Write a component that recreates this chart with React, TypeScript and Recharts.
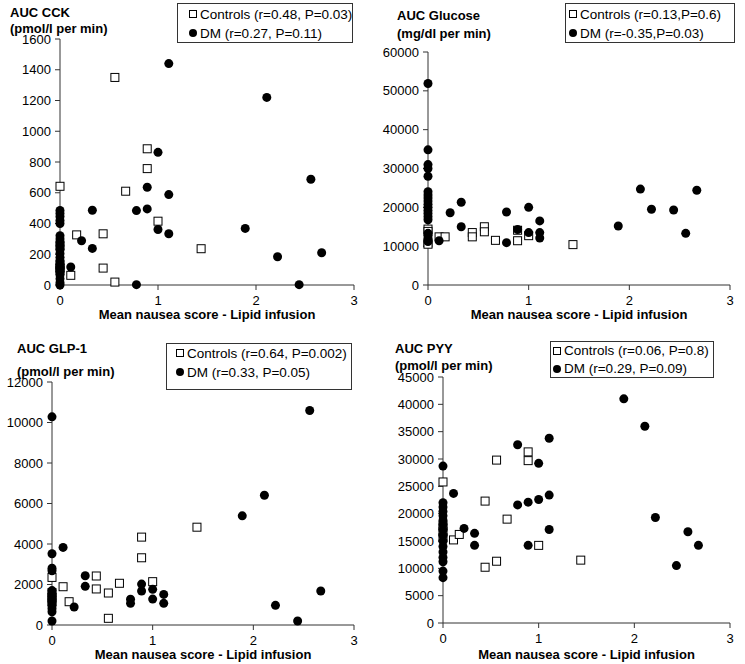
import { ScatterChart, Scatter, XAxis, YAxis } from "recharts";

type Pt = [number, number];

const FONT = "'Liberation Sans', Arial, sans-serif";
const xTicks = [0, 1, 2, 3];
const xLabel = "Mean nausea score - Lipid infusion";

// AUC CCK
const cckTicks = [0, 200, 400, 600, 800, 1000, 1200, 1400, 1600];
const cckControls: Pt[] = [
  [0, 642], [0, 255], [0, 130], [0, 110], [0, 95], [0.11, 63], [0.17, 326],
  [0.44, 333], [0.44, 110], [0.56, 1350], [0.56, 19], [0.67, 610],
  [0.89, 886], [0.89, 757], [1.0, 415], [1.44, 236],
];
const cckDM: Pt[] = [
  [0, 485], [0, 465], [0, 445], [0, 420], [0, 400], [0, 320], [0, 300], [0, 280],
  [0, 255], [0, 230], [0, 205], [0, 180], [0, 160], [0, 135], [0, 110], [0, 90],
  [0, 65], [0, 40], [0, 15], [0, 0],
  [0.11, 117], [0.22, 288], [0.33, 486], [0.33, 238], [0.78, 484], [0.78, 2],
  [0.89, 636], [0.89, 495], [1.0, 863], [1.0, 361], [1.11, 1440], [1.11, 588],
  [1.11, 333], [1.89, 368], [2.11, 1220], [2.22, 184], [2.44, 2], [2.56, 688],
  [2.67, 210],
];

// AUC Glucose
const gluTicks = [0, 10000, 20000, 30000, 40000, 50000, 60000];
const gluControls: Pt[] = [
  [0, 14400], [0, 13800], [0, 10800], [0, 10500], [0.11, 12400], [0.17, 12400],
  [0.44, 13500], [0.44, 12400], [0.56, 15000], [0.56, 13700], [0.67, 11500],
  [0.89, 14100], [0.89, 11400], [1.0, 12700], [1.44, 10400],
];
const gluDM: Pt[] = [
  [0, 51900], [0, 34800], [0, 31000], [0, 30000], [0, 28000], [0, 24000],
  [0, 23200], [0, 22400], [0, 21600], [0, 20800], [0, 20000], [0, 19200],
  [0, 18400], [0, 17600], [0, 16800], [0, 13300], [0, 12600], [0, 11900], [0, 11200],
  [0.11, 11400], [0.22, 18600], [0.33, 21300], [0.33, 15000], [0.78, 18800],
  [0.78, 10900], [0.89, 14300], [1.0, 20000], [1.0, 13500], [1.11, 16500],
  [1.11, 13500], [1.11, 12100], [1.89, 15200], [2.11, 24700], [2.22, 19500],
  [2.44, 19300], [2.56, 13300], [2.67, 24400],
];

// AUC GLP-1
const glpTicks = [0, 2000, 4000, 6000, 8000, 10000, 12000];
const glpControls: Pt[] = [
  [0, 2350], [0, 1600], [0, 1350], [0, 1150], [0.11, 1890], [0.17, 1150],
  [0.44, 2420], [0.44, 1780], [0.56, 1580], [0.56, 330], [0.67, 2060],
  [0.89, 4340], [0.89, 3320], [1.0, 2140], [1.44, 4830],
];
const glpDM: Pt[] = [
  [0, 10280], [0, 3520], [0, 2800], [0, 2680], [0, 1700], [0, 1550], [0, 1400],
  [0, 1250], [0, 1100], [0, 950], [0, 800], [0, 650], [0, 200],
  [0.11, 3830], [0.22, 890], [0.33, 2430], [0.33, 1910], [0.78, 1270],
  [0.78, 1070], [0.89, 2020], [0.89, 1680], [1.0, 1760], [1.0, 1280],
  [1.11, 1510], [1.11, 1070], [1.89, 5390], [2.11, 6410], [2.22, 970],
  [2.44, 200], [2.56, 10590], [2.67, 1680],
];

// AUC PYY
const pyyTicks = [0, 5000, 10000, 15000, 20000, 25000, 30000, 35000, 40000, 45000];
const pyyControls: Pt[] = [
  [0, 25800], [0, 17800], [0, 16800], [0, 15600], [0.11, 15200], [0.17, 16200],
  [0.44, 22300], [0.44, 10200], [0.56, 29800], [0.56, 11300], [0.67, 19000],
  [0.89, 31300], [0.89, 29700], [1.0, 14200], [1.44, 11500],
];
const pyyDM: Pt[] = [
  [0, 28700], [0, 22000], [0, 21200], [0, 20400], [0, 19600], [0, 18800],
  [0, 18000], [0, 17000], [0, 16000], [0, 15000], [0, 14000], [0, 13000],
  [0, 12000], [0, 11200], [0, 9500], [0, 8300],
  [0.11, 23700], [0.22, 17300], [0.33, 16400], [0.33, 14200], [0.78, 32600],
  [0.78, 21600], [0.89, 22100], [0.89, 14200], [1.0, 29200], [1.0, 22600],
  [1.11, 33800], [1.11, 23400], [1.11, 17100], [1.89, 41000], [2.11, 36000],
  [2.22, 19300], [2.44, 10500], [2.56, 16700], [2.67, 14200],
];

const toRows = (pts: Pt[]) => pts.map(([x, y]) => ({ x, y }));

const Square = (p: any) => (
  <rect x={p.cx - 4} y={p.cy - 4} width={8} height={8} fill="#fff" stroke="#000" strokeWidth={1} />
);
const Dot = (p: any) => <circle cx={p.cx} cy={p.cy} r={4.5} fill="#000" />;

const tickStyle = { fontSize: 13, fill: "#000", fontFamily: FONT };

function Legend({ box, pad, padTop, controls, dm }: any) {
  const row = { display: "flex", alignItems: "center", height: 18, whiteSpace: "nowrap" } as const;
  return (
    <div
      style={{
        position: "absolute",
        left: box[0],
        top: box[1],
        width: box[2],
        height: box[3],
        border: "1px solid #333",
        boxSizing: "border-box",
        background: "#fff",
        display: "flex",
        flexDirection: "column",
        paddingLeft: pad,
        paddingTop: padTop,
        fontSize: 13.5,
        fontFamily: FONT,
        color: "#000",
        gap: 1,
      }}
    >
      <div style={row}>
        <span style={{ width: 8, height: 8, border: "1px solid #000", boxSizing: "border-box", marginRight: 3, flex: "none" }} />
        {controls}
      </div>
      <div style={row}>
        <span style={{ width: 8, height: 8, borderRadius: 4, background: "#000", marginRight: 3, flex: "none" }} />
        {dm}
      </div>
    </div>
  );
}

function Panel(props: any) {
  const { cell, margin, yWidth, xHeight, labelOffset, yTicks, controls, dm, title, unit, titlePos, legend } = props;
  const [left, top, width, height] = cell;
  const text = { position: "absolute", fontFamily: FONT, fontWeight: "bold", fontSize: 13, lineHeight: "13px", color: "#000", whiteSpace: "nowrap" } as const;
  return (
    <div style={{ position: "absolute", left, top, width, height }}>
      <ScatterChart width={width} height={height} margin={margin}>
        <XAxis
          type="number"
          dataKey="x"
          domain={[0, 3]}
          ticks={xTicks}
          height={xHeight}
          tickSize={5}
          tickMargin={6}
          tick={tickStyle}
          stroke="#333"
          label={{ value: xLabel, position: "insideBottom", offset: labelOffset, fontSize: 13, fontWeight: "bold", fill: "#000", fontFamily: FONT }}
        />
        <YAxis
          type="number"
          dataKey="y"
          domain={[0, yTicks[yTicks.length - 1]]}
          ticks={yTicks}
          width={yWidth}
          tickSize={5}
          tickMargin={4}
          tick={tickStyle}
          stroke="#333"
          interval={0}
        />
        <Scatter name="Controls" data={toRows(controls)} shape={Square} isAnimationActive={false} />
        <Scatter name="DM" data={toRows(dm)} shape={Dot} isAnimationActive={false} />
      </ScatterChart>
      <div style={{ ...text, left: titlePos[0] - left, top: titlePos[1] - top - 6.5 }}>{title}</div>
      <div style={{ ...text, left: titlePos[0] - left, top: titlePos[2] - top - 6.5 }}>{unit}</div>
      <Legend
        box={[legend.box[0] - left, legend.box[1] - top, legend.box[2], legend.box[3]]}
        pad={legend.pad}
        padTop={legend.padTop}
        controls={legend.controls}
        dm={legend.dm}
      />
    </div>
  );
}

export default function App() {
  return (
    <div style={{ position: "absolute", left: 0, top: 0, width: 745, height: 664, background: "#fff" }}>
      <Panel
        cell={[0, 0, 372, 330]}
        margin={{ top: 39, right: 18, bottom: 5, left: 5 }}
        yWidth={55}
        xHeight={40}
        labelOffset={6}
        yTicks={cckTicks}
        controls={cckControls}
        dm={cckDM}
        title="AUC CCK"
        unit="(pmol/l per min)"
        titlePos={[10, 12, 28]}
        legend={{ box: [177, 3, 176, 40], pad: 11, padTop: 1, controls: "Controls (r=0.48, P=0.03)", dm: "DM (r=0.27, P=0.11)" }}
      />
      <Panel
        cell={[372, 0, 373, 330]}
        margin={{ top: 52, right: 15, bottom: 5, left: 5 }}
        yWidth={51}
        xHeight={40}
        labelOffset={6}
        yTicks={gluTicks}
        controls={gluControls}
        dm={gluDM}
        title="AUC Glucose"
        unit="(mg/dl per min)"
        titlePos={[397, 15, 33]}
        legend={{ box: [565, 3, 170, 40], pad: 3, padTop: 1, controls: "Controls (r=0.13,P=0.6)", dm: "DM (r=-0.35,P=0.03)" }}
      />
      <Panel
        cell={[0, 330, 372, 334]}
        margin={{ top: 52, right: 18, bottom: 3, left: 5 }}
        yWidth={47}
        xHeight={36}
        labelOffset={2.5}
        yTicks={glpTicks}
        controls={glpControls}
        dm={glpDM}
        title="AUC GLP-1"
        unit="(pmol/l per min)"
        titlePos={[17, 348, 371]}
        legend={{ box: [166, 343, 186, 47], pad: 9, padTop: 0, controls: "Controls (r=0.64, P=0.002)", dm: "DM (r=0.33, P=0.05)" }}
      />
      <Panel
        cell={[372, 330, 373, 334]}
        margin={{ top: 47, right: 15, bottom: 5, left: 5 }}
        yWidth={66}
        xHeight={36}
        labelOffset={0.5}
        yTicks={pyyTicks}
        controls={pyyControls}
        dm={pyyDM}
        title="AUC PYY"
        unit="(pmol/l per min)"
        titlePos={[395, 348, 365]}
        legend={{ box: [550, 341, 164, 37], pad: 2, padTop: 0, controls: "Controls (r=0.06, P=0.8)", dm: "DM (r=0.29, P=0.09)" }}
      />
    </div>
  );
}
